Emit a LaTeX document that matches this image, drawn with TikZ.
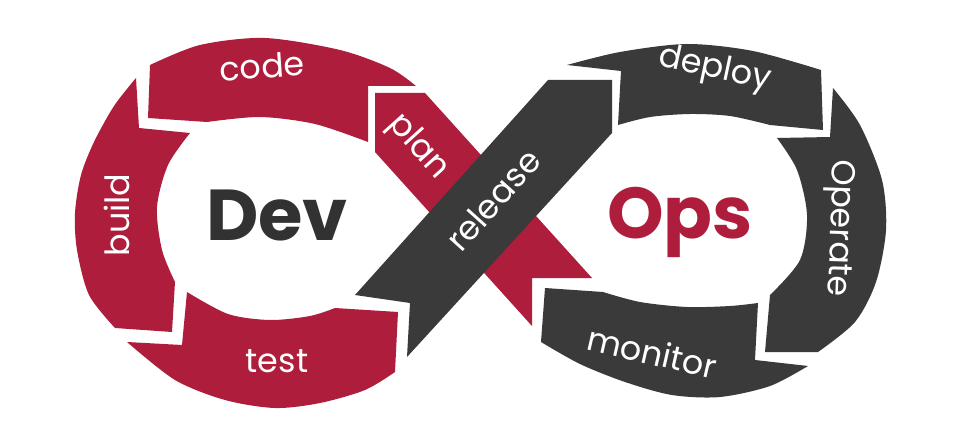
\documentclass[tikz,border=0pt]{standalone}
\usepackage{fontspec}
\setmainfont{Poppins}
\definecolor{loopred}{RGB}{174,30,60}
\definecolor{loopdark}{RGB}{58,58,58}
\definecolor{titledark}{RGB}{50,50,50}
\tikzset{
  redpart/.style={fill=loopred},
  darkpart/.style={fill=loopdark},
  steplabel/.style={text=white, font=\fontsize{19}{19}\selectfont, inner sep=0pt},
  bigword/.style={font=\fontsize{41}{41}\selectfont\bfseries, inner sep=0pt, anchor=base}
}
\begin{document}
\begin{tikzpicture}[x=0.02cm, y=-0.02cm, smooth, tension=0.5]
\useasboundingbox (0,0) rectangle (960,439);
\fill[white] (0,0) rectangle (960,439);

% ---- left loop (Dev) ----
% code
\fill[redpart] (150,65) -- (148,118) -- (207,122)
  -- plot coordinates {(207,122) (260,117) (315,124) (368,142)}
  -- (368,86) -- (416,86)
  -- plot coordinates {(416,86) (390,68) (340,50) (265,38) (200,45) (150,65)}
  -- cycle;
% build
\fill[redpart] (136,78) -- (139,128) -- (190,133)
  -- plot coordinates {(190,133) (168,165) (157,207) (162,250) (175,282)}
  -- (172,332) -- (115,328)
  -- plot coordinates {(115,328) (89,295) (77,250) (75,213) (81,175) (94,142) (114,106) (136,78)}
  -- cycle;
% test
\fill[redpart] (127,342) -- (182,345) -- (187,292)
  -- plot coordinates {(187,292) (228,314) (270,320) (310,316) (335,308)}
  -- (398,312) -- (395,372)
  -- plot coordinates {(395,372) (365,390) (320,403) (275,408) (225,400) (175,380) (127,342)}
  -- cycle;
% plan
\fill[redpart] (375,93) -- (425,93) -- (592,278) -- (532,278) -- (532,326) -- (375,152) -- cycle;

% ---- right loop (Ops) ----
% release
\fill[darkpart] (355,295) -- (410,303) -- (407,357) -- (612,133) -- (612,80) -- (548,80) -- cycle;
% deploy
\fill[darkpart] (567,65) -- (621,71) -- (618,125)
  -- plot coordinates {(618,125) (650,117) (690,114) (730,116) (770,125)}
  -- (823,130) -- (821,70)
  -- plot coordinates {(821,70) (753,51) (687,44) (620,52) (567,65)}
  -- cycle;
% operate
\fill[darkpart] (833,88) -- (830,137) -- (777,138)
  -- plot coordinates {(777,138) (797,170) (807,215) (800,260) (770,295)}
  -- (765,352) -- (818,352)
  -- plot coordinates {(818,352) (855,322) (876,282) (886,230) (882,180) (860,125) (833,88)}
  -- cycle;
% monitor
\fill[darkpart] (808,366) -- (755,360) -- (758,303)
  -- plot coordinates {(758,303) (730,306) (687,307) (640,302) (603,292)}
  -- (545,288) -- (541,342)
  -- plot coordinates {(541,342) (580,364) (625,382) (672,395) (720,397) (770,386) (808,366)}
  -- cycle;

% ---- step labels ----
\node[steplabel, rotate=4]   (lcode)    at (262,66)  {code};
\node[steplabel, rotate=90]  (lbuild)   at (117,215) {build};
\node[steplabel]             (ltest)    at (277,361) {test};
\node[steplabel, rotate=-48] (lplan)    at (418,147) {plan};
\node[steplabel, rotate=48]  (lrelease) at (493,200) {release};
\node[steplabel, rotate=-12] (ldeploy)  at (715,70)  {deploy};
\node[steplabel, rotate=-92] (loperate) at (838,228) {Operate};
\node[steplabel, rotate=-13] (lmonitor) at (652,352) {monitor};

% ---- centre words ----
\node[bigword, text=titledark] (dev) at (277,240) {Dev};
\node[bigword, text=loopred]   (ops) at (680,238) {Ops};
\end{tikzpicture}
\end{document}
